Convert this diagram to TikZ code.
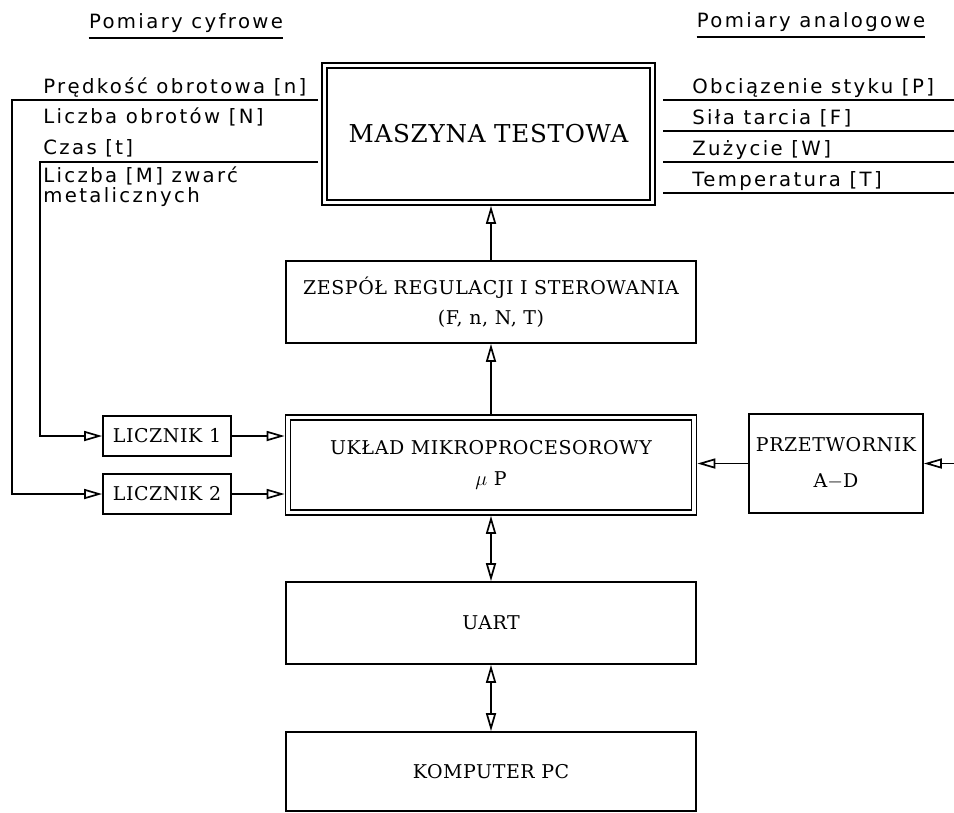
\documentclass[tikz,border=0pt]{standalone}
\usepackage{fontspec}
\newfontfamily\plotfont[LetterSpace=12]{DejaVu Sans}
\newfontfamily\blokfont[LetterSpace=3]{DejaVu Serif}
\usepackage{tikz}
\usetikzlibrary{arrows.meta, positioning}

\tikzset{
  sig/.style={line width=1.2pt},
  opentip/.style={-{Triangle[open, length=0.45cm, width=0.25cm]}},
  bothtip/.style={{Triangle[open, length=0.45cm, width=0.25cm]}-{Triangle[open, length=0.45cm, width=0.25cm]}},
  blok/.style={draw, line width=1.2pt, align=center, inner sep=0pt, font=\blokfont\fontsize{13.5}{21.5}\selectfont},
  dblok/.style={blok, double, double distance=2.3pt, outer sep=2.35pt},
  lbl/.style={anchor=base west, inner sep=0pt, font=\plotfont\fontsize{14}{16}\selectfont},
  head/.style={anchor=base, inner xsep=0pt, inner ysep=4pt, font=\plotfont\fontsize{14}{16}\selectfont},
}

\begin{document}
\begin{tikzpicture}[x=0.025cm, y=-0.025cm]
  \fill[white] (0,0) rectangle (954,812);
  \useasboundingbox (0,0) rectangle (954,812);
  % column headers
  \node[head] (hcyf) at (186,28) {Pomiary cyfrowe};
  \draw[sig] (hcyf.south west) -- (hcyf.south east);
  \node[head] (hana) at (811,27) {Pomiary analogowe};
  \draw[sig] (hana.south west) -- (hana.south east);
  % blocks
  \node[dblok, minimum width=8.2cm, minimum height=3.425cm, font=\blokfont\fontsize{17.5}{22}\selectfont] (masz) at (488.5,134) {MASZYNA TESTOWA};
  \node[blok, minimum width=10.25cm, minimum height=2.05cm] (zesp) at (491,302) {ZESPÓŁ REGULACJI I STEROWANIA\\(F, n, N, T)};
  \node[dblok, minimum width=10.15cm, minimum height=2.375cm] (ukl) at (491,465) {UKŁAD MIKROPROCESOROWY\\$\mu$ P};
  \node[blok, minimum width=3.2cm, minimum height=1cm] (lic1) at (167,436) {LICZNIK 1};
  \node[blok, minimum width=3.2cm, minimum height=1cm] (lic2) at (167,494) {LICZNIK 2};
  \node[blok, minimum width=4.35cm, minimum height=2.475cm] (przet) at (836,463.5) {PRZETWORNIK\\[4pt]A$-$D};
  \node[blok, minimum width=10.25cm, minimum height=2.05cm] (uart) at (491,623) {UART};
  \node[blok, minimum width=10.25cm, minimum height=1.975cm] (komp) at (491,771.5) {KOMPUTER PC};
  % digital signals
  \foreach \yy/\txt/\nm in {93/{Prędkość obrotowa [n]}/ln, 123/{Liczba obrotów [N]}/lnn, 154/{Czas [t]}/lt, 182/{Liczba [M] zwarć}/lm, 202/{metalicznych}/lmet}
    \node[lbl] (\nm) at (43,\yy) {\txt};
  % analog signals
  \foreach \yy/\txt/\nm in {93/{Obciązenie styku [P]}/rp, 124/{Siła tarcia [F]}/rf, 155/{Zużycie [W]}/rw, 186/{Temperatura [T]}/rt}
    \node[lbl] (\nm) at (692,\yy) {\txt};
  \foreach \yy in {100,131,162,193}
    \draw[sig] (663,\yy) -- (954,\yy);
  % counter inputs
  \coordinate (tapn) at (318,100);
  \coordinate (tapm) at (318,162);
  \draw[sig, opentip] (tapn) -- (12,100) |- (lic2.west);
  \draw[sig, opentip] (tapm) -- (40,162) |- (lic1.west);
  \draw[sig, opentip] (lic1.east) -- (lic1.east -| ukl.west);
  \draw[sig, opentip] (lic2.east) -- (lic2.east -| ukl.west);
  % converter
  \coordinate (adin) at (954,463.5);
  \draw[sig, opentip] (adin) -- (przet.east);
  \draw[sig, opentip] (przet.west) -- (przet.west -| ukl.east);
  % vertical bus
  \draw[sig, opentip] (zesp.north) -- (zesp.north |- masz.south);
  \draw[sig, opentip] (ukl.north) -- (zesp.south);
  \draw[sig, bothtip] (ukl.south) -- (uart.north);
  \draw[sig, bothtip] (uart.south) -- (komp.north);
\end{tikzpicture}
\end{document}
